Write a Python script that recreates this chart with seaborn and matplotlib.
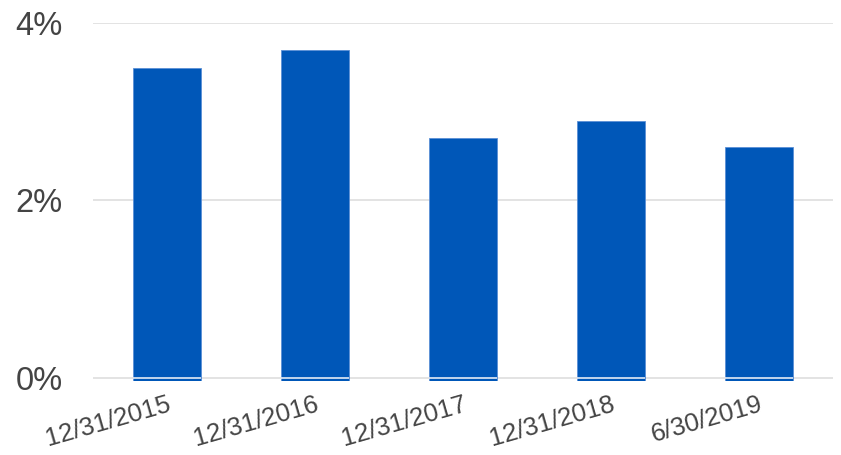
import matplotlib
matplotlib.use("Agg")
import matplotlib.pyplot as plt
import seaborn as sns
import pandas as pd
from matplotlib.ticker import FuncFormatter

# data
dates = ["12/31/2015", "12/31/2016", "12/31/2017", "12/31/2018", "6/30/2019"]
rates = [3.5, 3.7, 2.7, 2.9, 2.6]

df = pd.DataFrame({"date": dates, "rate": rates})

sns.set_theme(style="white")
plt.rcParams["font.family"] = ["Liberation Sans", "DejaVu Sans"]

fig = plt.figure(figsize=(8.41, 4.55), dpi=100)
ax = fig.add_axes([0.1106, 0.163, 0.8794, 0.786])

sns.barplot(data=df, x="date", y="rate", color="#0057B8", saturation=1,
            width=0.46, edgecolor="#5b8fd6", linewidth=0.6, ax=ax, zorder=2)

# bars sit a hair below the baseline, with a light line across them at 0
for p in ax.patches:
    p.set_y(-0.035)
    p.set_height(p.get_height() + 0.035)
    ax.hlines(0, p.get_x(), p.get_x() + p.get_width(), color="#e4ebf6",
              lw=1.2, zorder=3)

ax.set_ylim(-0.035, 4)
ax.set_xlim(-0.5, len(dates) - 0.5)
ax.set_yticks([0, 2, 4])
ax.yaxis.set_major_formatter(FuncFormatter(lambda v, _: f"{v:.0f}%"))
ax.yaxis.grid(True, color="#e0e0e0", lw=1.3, zorder=0)
ax.set_axisbelow(True)

for s in ax.spines.values():
    s.set_visible(False)

ax.set_xlabel("")
ax.set_ylabel("")
ax.tick_params(axis="y", labelsize=23.5, labelcolor="#444444", length=0, pad=22)
ax.tick_params(axis="x", labelsize=18.5, labelcolor="#444444", length=0, pad=8)
for lbl in ax.get_xticklabels():
    lbl.set_rotation(16)
    lbl.set_ha("right")
    lbl.set_rotation_mode("anchor")

fig.savefig("out.png", dpi=100)
